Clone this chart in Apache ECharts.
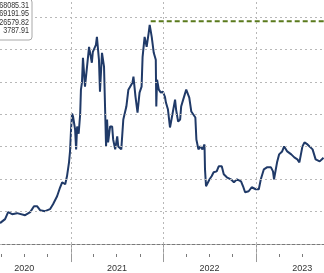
<!DOCTYPE html>
<html><head><meta charset="utf-8">
<script src="https://cdn.jsdelivr.net/npm/echarts@6/dist/echarts.min.js"></script>
<style>html,body{margin:0;padding:0;background:#fff}#c{width:324px;height:273px}</style>
</head><body><div id="c"></div>
<script>
const dates = ['2020-03-28','2020-04-17','2020-04-29','2020-05-15','2020-06-03','2020-07-05','2020-07-25','2020-08-09','2020-08-21','2020-09-02','2020-09-22','2020-10-11','2020-10-23','2020-11-08','2020-11-20','2020-11-28','2020-12-10','2020-12-17','2020-12-25','2020-12-29',
'2021-01-02','2021-01-06','2021-01-10','2021-01-18','2021-01-22','2021-01-26','2021-02-01','2021-02-07','2021-02-10','2021-02-14','2021-02-18','2021-02-26','2021-03-06','2021-03-14','2021-03-25','2021-03-29','2021-04-10','2021-04-14','2021-04-22','2021-04-26','2021-05-04','2021-05-12','2021-05-20','2021-05-24','2021-05-28','2021-06-05','2021-06-13','2021-06-17','2021-06-25','2021-07-03','2021-07-07','2021-07-19','2021-07-27','2021-08-08','2021-08-16','2021-09-01','2021-09-05','2021-09-13','2021-09-21','2021-09-29','2021-10-07','2021-10-11','2021-10-19','2021-10-27','2021-11-04','2021-11-08','2021-11-16','2021-11-24','2021-12-02','2021-12-04','2021-12-07','2021-12-14','2021-12-22','2021-12-30',
'2022-01-07','2022-01-11','2022-01-19','2022-01-27','2022-02-04','2022-02-16','2022-02-20','2022-02-28','2022-03-08','2022-03-12','2022-03-20','2022-04-01','2022-04-13','2022-04-21','2022-05-07','2022-05-11','2022-05-19','2022-05-27','2022-06-04','2022-06-12','2022-06-14','2022-06-18','2022-07-02','2022-07-10','2022-07-18','2022-07-30','2022-08-07','2022-08-19','2022-08-27','2022-09-08','2022-09-24','2022-10-06','2022-10-18','2022-11-03','2022-11-11','2022-11-19','2022-12-03','2022-12-15','2022-12-31',
'2023-01-12','2023-01-20','2023-02-01','2023-02-13','2023-03-01','2023-03-09','2023-03-13','2023-03-25','2023-04-02','2023-04-14','2023-04-22','2023-05-04','2023-05-20','2023-06-01','2023-06-13','2023-06-21','2023-07-03','2023-07-11','2023-07-23','2023-08-12','2023-08-16','2023-08-24','2023-09-09','2023-09-24'];
const prices = [6450,7680,9830,9210,9520,8900,9830,11670,11670,10440,10130,10750,12280,14740,17500,19040,18420,20880,25180,28550,
35300,40220,39300,35300,29170,36230,34000,40000,47590,49740,57420,48510,54650,60790,55880,59260,61410,63860,56800,46980,58950,54650,30090,38380,31320,36230,36230,32240,29170,33160,30090,29170,38380,42370,47590,49740,51580,45440,40530,46670,48510,57720,63860,60790,65090,67550,63860,58950,56800,42370,50660,47590,46670,47000,
45400,43600,41450,35920,39300,44520,41450,37760,38380,42370,44520,47590,45130,40840,38990,32240,29170,30090,29170,30700,23030,17810,19960,20880,22110,22410,23950,23950,21490,20570,19960,19040,19960,19340,17810,15970,16270,17500,16890,
16890,19960,23030,23640,23640,22410,19960,25180,27630,28550,30090,28550,27630,26710,26100,25180,30090,31320,30700,29170,29170,26100,25480,26580];
const athStart = '2021-11-12';
const athValue = 68700;
const legendValues = ['68085.31','69191.95','26579.82','3787.91'];
const yearLabels = ['2020','2021','2022','2023'];
const yearMid = ['2020-07-02','2021-07-02','2022-07-02','2023-07-02'];
const yearStarts = ['2021-01-01','2022-01-01','2023-01-01'];
const quarterTicks = ['2020-04-01','2020-07-01','2020-10-01','2021-04-01','2021-07-01','2021-10-01','2022-04-01','2022-07-01','2022-10-01','2023-04-01','2023-07-01'];
const gridValues = [0,10000,20000,30000,40000,50000,60000,70000];

const ts = d => Date.UTC(+d.slice(0,4), +d.slice(5,7)-1, +d.slice(8,10));
const xMin = ts('2020-03-28'), xMax = ts('2023-09-26');
const midTs = yearMid.map(ts);
const font = "'Liberation Sans', Arial, sans-serif";
const chart = echarts.init(document.getElementById('c'), null, {renderer:'canvas'});
const dotted = {color:'#b8b8b8', type:[2,3], width:1};
chart.setOption({
  animation:false,
  backgroundColor:'#fff',
  grid:{left:0,right:0,top:0,bottom:18},
  xAxis:[{
    type:'value', min:xMin, max:xMax,
    axisLine:{show:true,lineStyle:{color:'#7a7a7a',width:1}},
    axisTick:{show:true,length:18,customValues:yearStarts.map(ts),lineStyle:{color:'#9a9a9a'}},
    axisLabel:{show:true,customValues:midTs,formatter:function(v){const i=midTs.indexOf(v);return i>=0?yearLabels[i]:'';},
      color:'#333',fontSize:9,fontFamily:font,margin:10,hideOverlap:false},
    splitLine:{show:false}
  },{
    type:'value', min:xMin, max:xMax, position:'bottom',
    axisLine:{show:false},
    axisTick:{show:true,length:3,customValues:quarterTicks.map(ts),lineStyle:{color:'#7a7a7a'}},
    axisLabel:{show:false},
    splitLine:{show:false}
  }],
  yAxis:{type:'value', min:-3070, max:75220, show:false, splitLine:{show:false}},
  series:[{
    type:'line', xAxisIndex:0, showSymbol:false, symbol:'none',
    data:dates.map((d,i)=>[ts(d),prices[i]]),
    lineStyle:{color:'#203a68',width:2},
    z:3,
    markLine:{silent:true,symbol:['none','none'],label:{show:false},animation:false,
      lineStyle:dotted,
      data:gridValues.map(v=>({yAxis:v})).concat(yearStarts.map(d=>({xAxis:ts(d)})))}
  },{
    type:'line', xAxisIndex:0, showSymbol:false, symbol:'none',
    data:[[ts(athStart),athValue],[xMax,athValue]],
    lineStyle:{color:'#5a7a1c',width:2,type:[5,3]},
    z:4
  }],
  graphic:[
    {type:'rect',z:10,shape:{x:-20,y:-1,width:52,height:41,r:3},style:{fill:'#fff',stroke:'#a8a8a8',lineWidth:1}},
    ...legendValues.map((t,i)=>({type:'text',z:11,x:29,y:1+i*8.5,scaleX:0.84,style:{text:t,textAlign:'right',textVerticalAlign:'top',fill:'#333',font:"8.5px " + font}}))
  ]
});
</script></body></html>
